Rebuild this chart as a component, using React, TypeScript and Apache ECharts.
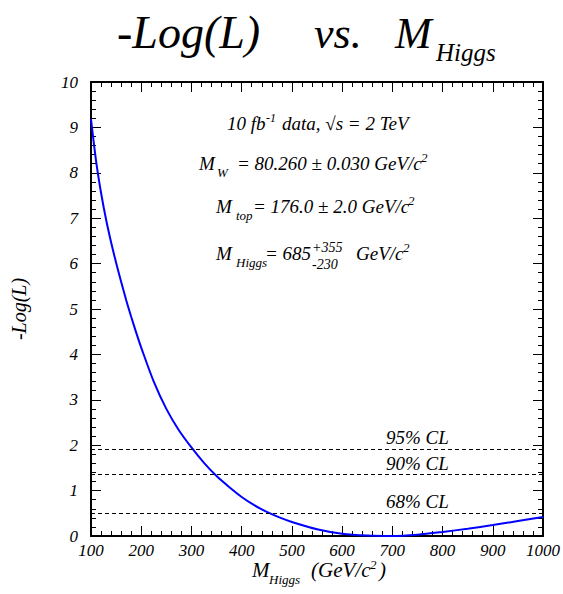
import React, { useEffect, useRef } from 'react';
import * as echarts from 'echarts';

// Higgs mass (GeV/c^2) and -Log(L)
const massX = [100, 110, 120, 130, 140, 150, 160, 170, 180, 190, 200, 225, 250, 275, 300, 325, 350, 375, 400, 425, 450, 475, 500, 550, 600, 650, 700, 750, 800, 850, 900, 950, 1000];
const negLogL = [9.18, 8.27, 7.56, 6.97, 6.47, 6.02, 5.6, 5.2, 4.83, 4.48, 4.15, 3.4, 2.8, 2.33, 1.95, 1.61, 1.32, 1.08, 0.86, 0.68, 0.53, 0.41, 0.31, 0.15, 0.05, 0.01, 0.0, 0.03, 0.09, 0.16, 0.24, 0.33, 0.42];

// confidence-level lines
const clLevels = [1.92, 1.35, 0.5];
const clLabels = ['95% CL', '90% CL', '68% CL'];
const clLabelX = 750;

const FF = 'Liberation Serif';

function txt(text: string, x: number, base: number, size: number, align = 'left'): any {
  return {
    type: 'text',
    x,
    y: base - 0.33 * size,
    silent: true,
    style: {
      text,
      fontFamily: FF,
      fontStyle: 'italic',
      fontSize: size,
      fill: '#000',
      align,
      verticalAlign: 'middle',
    },
  };
}

function buildGraphics(): any[] {
  const g: any[] = [];
  // title
  g.push(txt('-Log(L)', 117, 48, 46));
  g.push(txt('vs.', 314, 48, 44));
  g.push(txt('M', 395, 48, 44));
  g.push(txt('Higgs', 436, 61, 25));
  // line 1
  g.push(txt('10 fb', 227, 130, 19));
  g.push(txt('-1', 266, 122, 12));
  g.push(txt('data, √s = 2 TeV', 282, 130, 19));
  // line 2
  g.push(txt('M', 199, 170, 19));
  g.push(txt('W', 217, 177, 13));
  g.push(txt('= 80.260 ± 0.030 GeV/c', 237, 170, 19));
  g.push(txt('2', 421, 162, 13));
  // line 3
  g.push(txt('M', 216, 213, 19));
  g.push(txt('top', 236, 220, 13));
  g.push(txt('= 176.0 ± 2.0 GeV/c', 253, 213, 19));
  g.push(txt('2', 408, 205, 13));
  // line 4
  g.push(txt('M', 216, 260, 19));
  g.push(txt('Higgs', 236, 267, 13));
  g.push(txt('= 685', 265, 260, 19));
  g.push(txt('+355', 312, 252, 14));
  g.push(txt('-230', 312, 269, 14));
  g.push(txt('GeV/c', 356, 260, 19));
  g.push(txt('2', 403, 252, 13));
  // x axis name
  g.push(txt('M', 252, 577, 21));
  g.push(txt('Higgs', 269, 584, 13));
  g.push(txt('(GeV/c', 311, 577, 21));
  g.push(txt('2', 370, 569, 13));
  g.push(txt(')', 379, 577, 21));
  return g;
}

const axisCommon = {
  type: 'value',
  axisLine: { show: true, onZero: false, lineStyle: { color: '#000', width: 2 } },
  axisTick: { show: true, inside: true, length: 10, lineStyle: { color: '#000', width: 1 } },
  minorTick: { show: true, splitNumber: 5, length: 5, lineStyle: { color: '#000', width: 1 } },
  splitLine: { show: false },
  minorSplitLine: { show: false },
};

const labelStyle = { color: '#000', fontFamily: FF, fontStyle: 'italic', fontSize: 17, formatter: (v: number) => String(v) };

export default function App() {
  const ref = useRef<HTMLDivElement>(null);
  useEffect(() => {
    if (!ref.current) return;
    const chart = echarts.init(ref.current, undefined, { renderer: 'svg' });
    chart.setOption({
      animation: false,
      backgroundColor: '#fff',
      textStyle: { fontFamily: FF },
      grid: { left: 91, right: 19, top: 82, bottom: 58 },
      xAxis: [
        { ...axisCommon, position: 'bottom', min: 100, max: 1000, interval: 100, axisLabel: { ...labelStyle, margin: 6 } },
        { ...axisCommon, position: 'top', min: 100, max: 1000, interval: 100, axisLabel: { show: false } },
      ],
      yAxis: [
        {
          ...axisCommon, position: 'left', min: 0, max: 10, interval: 1,
          axisLabel: { ...labelStyle, margin: 13 },
          name: '-Log(L)', nameLocation: 'middle', nameGap: 62, nameRotate: 90,
          nameTextStyle: { color: '#000', fontFamily: FF, fontStyle: 'italic', fontSize: 20 },
        },
        { ...axisCommon, position: 'right', min: 0, max: 10, interval: 1, axisLabel: { show: false } },
      ],
      series: [
        {
          type: 'line',
          xAxisIndex: 0,
          yAxisIndex: 0,
          data: massX.map((x, i) => [x, negLogL[i]]),
          showSymbol: false,
          smooth: 0.3,
          lineStyle: { color: '#0000ff', width: 2 },
          markLine: {
            silent: true,
            symbol: ['none', 'none'],
            label: { show: false },
            lineStyle: { color: '#000', width: 1, type: [4, 3] },
            data: clLevels.map((v) => ({ yAxis: v })),
          },
          markPoint: {
            silent: true,
            symbol: 'circle',
            symbolSize: 0,
            itemStyle: { color: 'transparent' },
            label: {
              show: true,
              position: 'top',
              distance: 2,
              color: '#000',
              fontFamily: FF,
              fontStyle: 'italic',
              fontSize: 19,
              formatter: (p: any) => p.name,
            },
            data: clLevels.map((v, i) => ({ name: clLabels[i], coord: [clLabelX, v] })),
          },
        },
      ],
      graphic: buildGraphics(),
    });
    return () => chart.dispose();
  }, []);
  return <div ref={ref} style={{ width: 563, height: 594, position: 'absolute', left: 0, top: 0 }} />;
}
